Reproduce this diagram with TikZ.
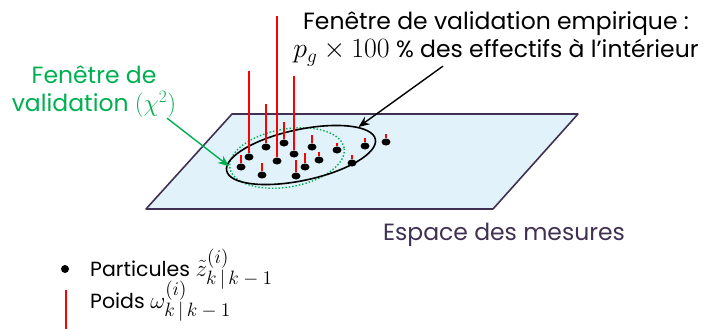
\documentclass[tikz,border=0pt]{standalone}
\usepackage{fontspec}
\usepackage{graphicx}
\setmainfont{Poppins}
\usetikzlibrary{shapes.geometric,arrows.meta}
\definecolor{outl}{RGB}{64,49,82}
\definecolor{plane}{RGB}{225,242,250}
\definecolor{grn}{RGB}{0,176,80}
\definecolor{wred}{RGB}{255,0,0}
\newcommand{\largemath}[1]{\scalebox{1.12}{$#1$}}
\newcommand{\bigscr}[1]{\scalebox{1.2}{$\scriptstyle #1$}}
\begin{document}
\begin{tikzpicture}[x=1pt,y=-1pt,
  particle/.style={ellipse,fill=black,inner sep=0pt,minimum width=9pt,minimum height=7pt},
  weight/.style={draw=wred,line width=1.8pt},
  txt/.style={font=\fontsize{23.5}{28}\selectfont,inner sep=0pt},
  legtxt/.style={font=\fontsize{20.5}{22}\selectfont,inner sep=0pt,anchor=base west}]
\useasboundingbox (0,0) rectangle (705,329);
% measurement plane
\draw[fill=plane,draw=outl,line width=1.6pt,line join=round]
  (232,114) -- (578,114) -- (493,209) -- (146,209) -- cycle;
\node[txt,text=outl,anchor=base] (space) at (504,240) {Espace des mesures};
% validation windows
\node[draw=grn,dotted,line width=1.4pt,ellipse,minimum width=116pt,minimum height=58pt,rotate=10] (gwin) at (287,158) {};
\node[draw=black,line width=1.6pt,ellipse,minimum width=152pt,minimum height=51pt,rotate=12] (win) at (301,155) {};
% particles and weights
\foreach \n/\x/\y/\t in {1/241/167/155,2/249/157/71,3/262/175/163,4/266/147/104,5/277/161/16,
  6/284/143/122,7/294/154/76,8/296/176/160,9/305/167/153,10/312/147/135,11/319/160/152,
  12/337/150/143,13/352/163/155,14/365/146/138,15/386/142/134}{
  \node[particle] (p\n) at (\x,\y) {};
  \coordinate (w\n) at (\x,\t);
  \draw[weight] (w\n) -- (p\n.north);
}
% labels
\node[txt,align=center] (emp) at (496,39)
  {Fenêtre de validation empirique :\\\largemath{p_g\times 100} \% des effectifs à l’intérieur};
\node[txt,text=grn,align=center] (chi) at (94,92) {Fenêtre de\\validation $(\chi^2)$};
\draw[-{Stealth[length=11pt,width=9pt]},line width=1.4pt] (emp.south -| 443,71) -- (win.14);
\draw[-{Stealth[length=11pt,width=9pt]},draw=grn,fill=grn,line width=1.4pt] (chi.south -| 167,118) -- (gwin.178);
% legend
\node[circle,fill=black,inner sep=0pt,minimum size=8pt] (lb) at (65,269) {};
\node[legtxt] (lpart) at (90,276) {Particules \largemath{\tilde{z}^{\bigscr{(i)}}_{\bigscr{k\mkern3mu|\mkern3mu k\mkern4mu-\mkern4mu1}}}};
\coordinate (lwtop) at (66,290);
\coordinate (lwbot) at (66,329);
\draw[weight] (lwtop) -- (lwbot);
\node[legtxt] (lpoids) at (90,308) {Poids \largemath{\omega^{\bigscr{(i)}}_{\bigscr{k\mkern3mu|\mkern3mu k\mkern4mu-\mkern4mu1}}}};
\end{tikzpicture}
\end{document}
